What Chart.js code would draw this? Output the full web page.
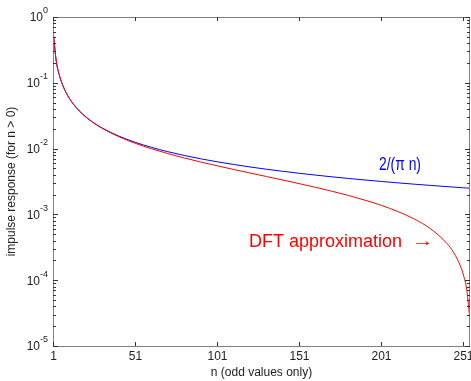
<!DOCTYPE html>
<html>
<head>
<meta charset="utf-8">
<script src="https://cdn.jsdelivr.net/npm/chart.js@4"></script>
<style>
  body { margin: 0; background: #fff; }
  canvas { display: block; }
</style>
</head>
<body>
<canvas id="chart" width="471" height="381"></canvas>
<script>
// odd n values sampled along the curves
const nValues = [1, 3, 5, 7, 9, 11, 13, 15, 17, 21, 25, 31, 41, 51, 61, 71, 81, 91, 101, 111, 121, 131, 141, 151, 161, 171, 181, 191, 201, 211, 221, 231, 241, 245, 249, 251, 253, 255];

// 2/(pi n) curve (blue)
const idealValues = [0.6366, 0.2122, 0.1273, 0.09095, 0.07074, 0.05787, 0.04897, 0.04244, 0.03745, 0.03032, 0.02546, 0.02054, 0.01553, 0.01248, 0.01044, 0.008967, 0.00786, 0.006996, 0.006303, 0.005735, 0.005261, 0.00486, 0.004515, 0.004216, 0.003954, 0.003723, 0.003517, 0.003333, 0.003167, 0.003017, 0.002881, 0.002756, 0.002642, 0.002599, 0.002557, 0.002536, 0.002517, 0.002497];

// DFT approximation (red)
const dftValues = [0.6366, 0.2122, 0.1273, 0.09089, 0.07066, 0.05779, 0.04887, 0.04232, 0.03731, 0.03015, 0.02526, 0.02029, 0.0152, 0.01207, 0.009944, 0.008392, 0.007201, 0.006253, 0.005475, 0.00482, 0.004257, 0.003765, 0.003328, 0.002934, 0.002576, 0.002245, 0.001936, 0.001646, 0.001371, 0.001107, 0.000852, 0.000604, 0.0003605, 0.0002641, 0.0001679, 0.0001199, 0.00007191, 0.00002397];

const xTicks = [1, 51, 101, 151, 201, 251];
const yDecades = [-5, -4, -3, -2, -1, 0];

const fontName = '"Liberation Sans", Arial, sans-serif';

// axes box, inward ticks and labels drawn from the chart's scales
const axesPlugin = {
    id: 'axesPlugin',
    afterDraw(chart) {
        const ctx = chart.ctx;
        const area = chart.chartArea;
        const xs = chart.scales.x;
        const ys = chart.scales.y;
        ctx.save();

        // box
        ctx.strokeStyle = '#808080';
        ctx.lineWidth = 1;
        ctx.strokeRect(area.left + 0.5, area.top + 0.5, area.right - area.left - 1, area.bottom - area.top);

        // x ticks
        ctx.strokeStyle = '#333';
        ctx.fillStyle = '#222';
        ctx.font = '12px ' + fontName;
        ctx.textAlign = 'center';
        ctx.textBaseline = 'top';
        xTicks.forEach(function(t) {
            const px = Math.round(xs.getPixelForValue(t)) + 0.5;
            ctx.beginPath();
            ctx.moveTo(px, area.bottom);
            ctx.lineTo(px, area.bottom - 4);
            ctx.moveTo(px, area.top);
            ctx.lineTo(px, area.top + 4);
            ctx.stroke();
            ctx.fillText(String(t), px, area.bottom + 5);
        });

        // y ticks, major and minor
        yDecades.forEach(function(k) {
            for (let m = 1; m <= 9; m++) {
                if (k === 0 && m > 1) break;
                const py = Math.round(ys.getPixelForValue(m * Math.pow(10, k))) + 0.5;
                const len = m === 1 ? 5 : 3;
                ctx.beginPath();
                ctx.moveTo(area.left, py);
                ctx.lineTo(area.left + len, py);
                ctx.moveTo(area.right, py);
                ctx.lineTo(area.right - len, py);
                ctx.stroke();
            }
            const py = ys.getPixelForValue(Math.pow(10, k));
            ctx.textAlign = 'right';
            ctx.textBaseline = 'middle';
            ctx.font = '9px ' + fontName;
            const sup = String(k);
            const supW = ctx.measureText(sup).width;
            const right = area.left - 5;
            ctx.fillText(sup, right, py - 6);
            ctx.font = '12px ' + fontName;
            ctx.fillText('10', right - supW, py + 1);
        });

        // axis titles
        ctx.font = '12px ' + fontName;
        ctx.textAlign = 'center';
        ctx.textBaseline = 'middle';
        ctx.fillText('n (odd values only)', (area.left + area.right) / 2, 373);
        ctx.save();
        ctx.translate(12, (area.top + area.bottom) / 2);
        ctx.rotate(-Math.PI / 2);
        ctx.fillText('impulse response (for n > 0)', 0, 0);
        ctx.restore();

        // curve labels
        ctx.textAlign = 'left';
        ctx.textBaseline = 'alphabetic';
        ctx.font = '18px ' + fontName;
        ctx.fillStyle = '#0000ff';
        const blueText = '2/(\u03c0 n)';
        const bw = ctx.measureText(blueText).width;
        ctx.save();
        ctx.translate(379, 170);
        ctx.scale(42 / bw, 1);
        ctx.fillText(blueText, 0, 0);
        ctx.restore();

        ctx.fillStyle = '#ff0000';
        ctx.fillText('DFT approximation', 249, 247);
        ctx.font = '16px ' + fontName;
        const aw = ctx.measureText('\u2192').width;
        ctx.save();
        ctx.translate(412, 246);
        ctx.scale(22 / aw, 1);
        ctx.fillText('\u2192', 0, 0);
        ctx.restore();

        ctx.restore();
    }
};

function toPoints(ys) {
    return nValues.map(function(n, i) { return { x: n, y: ys[i] }; });
}

const chart = new Chart(document.getElementById('chart').getContext('2d'), {
    type: 'line',
    data: {
        datasets: [
            {
                label: 'DFT approximation',
                data: toPoints(dftValues),
                borderColor: '#ff0000',
                borderWidth: 1,
                pointRadius: 0,
                cubicInterpolationMode: 'monotone',
                fill: false
            },
            {
                label: '2/(pi n)',
                data: toPoints(idealValues),
                borderColor: '#0000ff',
                borderWidth: 1,
                pointRadius: 0,
                cubicInterpolationMode: 'monotone',
                fill: false
            }
        ]
    },
    options: {
        responsive: false,
        animation: false,
        layout: { padding: { left: 53, top: 17, right: 1, bottom: 35 } },
        plugins: {
            legend: { display: false },
            tooltip: { enabled: false }
        },
        scales: {
            x: { type: 'linear', min: 1, max: 255, display: false },
            y: { type: 'logarithmic', min: 1e-5, max: 1, display: false }
        }
    },
    plugins: [axesPlugin]
});
</script>
</body>
</html>
